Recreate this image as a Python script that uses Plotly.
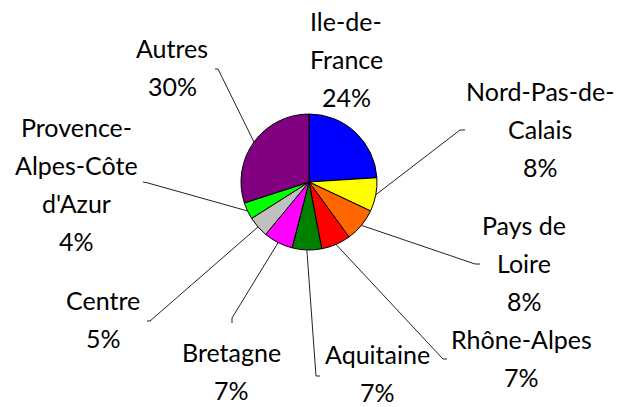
import math
import plotly.graph_objects as go

# ---- data ----
regions = ["Ile-de-France", "Nord-Pas-de-Calais", "Pays de Loire", "Rhône-Alpes",
           "Aquitaine", "Bretagne", "Centre", "Provence-Alpes-Côte d'Azur", "Autres"]
shares = [24, 8, 8, 7, 7, 7, 5, 4, 30]
label_lines = [["Ile-de-", "France"], ["Nord-Pas-de-", "Calais"], ["Pays de", "Loire"],
               ["Rhône-Alpes"], ["Aquitaine"], ["Bretagne"], ["Centre"],
               ["Provence-", "Alpes-Côte", "d'Azur"], ["Autres"]]
colors = ["#0000FF", "#FFFF00", "#FF6600", "#FF0000", "#008000",
          "#FF00FF", "#C0C0C0", "#00FF00", "#800080"]

# ---- layout constants (page pixels) ----
W, H = 629, 407
OFF = 8                     # default page body margin
FW, FH = W - OFF, H - OFF   # figure size
CX, CY, R = 309, 182, 68
LINE_GAP = 38
Y_SHIFT = -1
FONT = dict(family="Lato, 'Open Sans', sans-serif", size=25, color="black")
# label block: centre x, y of first line
label_pos = [(346, 22), (540, 92), (524, 226), (521, 340), (377, 355),
             (231, 353), (103, 301), (76, 128), (172, 49)]
# leader: elbow point and tick end, or None
leaders = [None, ((460, 130), (465, 130)), ((475, 264), (480, 264)),
           ((443, 359), (447, 359)), ((316, 376), (320, 376)),
           ((232, 318), (232, 323)), ((150, 321), (147, 321)),
           ((148, 183), (143, 182)), ((218, 69), (215, 69))]

fig = go.Figure()
fig.add_trace(go.Pie(
    labels=regions, values=shares, sort=False, direction="clockwise", rotation=0,
    marker=dict(colors=colors, line=dict(color="black", width=1)),
    textinfo="none", hoverinfo="label+percent", showlegend=False,
    domain=dict(x=[(CX - OFF - R) / FW, (CX - OFF + R) / FW],
                y=[1 - (CY - OFF + R) / FH, 1 - (CY - OFF - R) / FH]),
))

total = sum(shares)
cum = 0
for i, v in enumerate(shares):
    mid = (cum + v / 2) / total * 2 * math.pi
    cum += v
    px, py = CX + R * math.sin(mid), CY - R * math.cos(mid)
    if leaders[i] is not None:
        (ex, ey), (tx, ty) = leaders[i]
        fig.add_shape(type="path", path=f"M{px},{py} L{ex},{ey} L{tx},{ty}",
                      xref="x", yref="y", line=dict(color="#222", width=1), layer="above")
    lx, ly = label_pos[i]
    lines = label_lines[i] + [f"{round(v / total * 100)}%"]
    for k, t in enumerate(lines):
        fig.add_annotation(x=lx, y=ly + Y_SHIFT + k * LINE_GAP, text=t, xref="x", yref="y",
                           showarrow=False, xanchor="center", yanchor="middle", font=FONT)

fig.update_layout(
    width=FW, height=FH, margin=dict(l=0, r=0, t=0, b=0),
    paper_bgcolor="white", plot_bgcolor="rgba(0,0,0,0)",
    xaxis=dict(range=[OFF, W], visible=False, fixedrange=True),
    yaxis=dict(range=[H, OFF], visible=False, fixedrange=True),
)
fig.write_html("out.html")
